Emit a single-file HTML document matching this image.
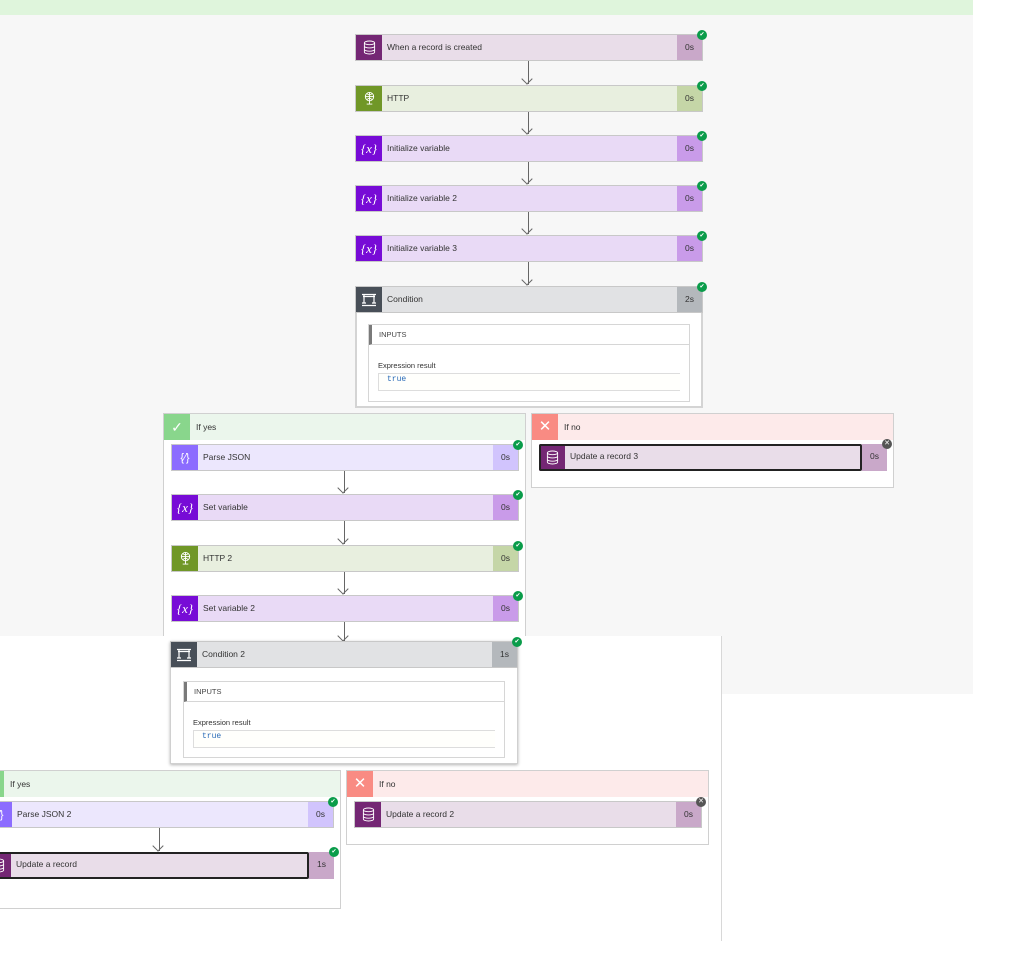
<!DOCTYPE html>
<html><head><meta charset="utf-8"><style>
*{box-sizing:border-box;margin:0;padding:0}
body{width:1024px;height:968px;position:relative;overflow:hidden;background:#fff;font-family:"Liberation Sans",sans-serif;font-size:8.5px;color:#333}
.a{position:absolute}
.c{position:absolute;height:27px;border:1px solid #c8c8c8}
.c .i{position:absolute;left:0;top:0;width:26px;height:100%;display:flex;align-items:center;justify-content:center;color:#fff}
.c .t{position:absolute;left:31px;top:0;line-height:25px}
.c .d{position:absolute;right:0;top:0;width:25px;height:100%;text-align:center;line-height:25px}
.ok{position:absolute;right:-5px;top:-5px;width:10px;height:10px;border-radius:50%;background:#0a9c4a;color:#fff;font-size:6px;line-height:10px;text-align:center}
.x{position:absolute;right:-5px;top:-5px;width:10px;height:10px;border-radius:50%;background:#555;color:#fff;font-size:7px;line-height:10px;text-align:center}
.db{background:#e9dde9}.db .i{background:#742774}.db .d{background:#c9a8c9}
.ht{background:#e8efdf}.ht .i{background:#709727}.ht .d{background:#c5d6a7}
.vr{background:#e9daf6}.vr .i{background:#770bd6;font-family:"Liberation Serif",serif;font-style:italic;font-size:13px}.vr .d{background:#c99be9}
.pj{background:#ece7fd}.pj .i{background:#8c6cff;font-size:11px}.pj .d{background:#d1c4fd}
.cd{background:#e1e2e4}.cd .i{background:#484f58}.cd .d{background:#b4b8bc}
.sel{border:2px solid #222;border-radius:2px}
.arr{position:absolute;width:1px;background:#666}
.arr:after{content:"";position:absolute;left:-5px;bottom:0;width:7px;height:7px;border-right:1.3px solid #666;border-bottom:1.3px solid #666;transform:translate(0,-1px) rotate(45deg)}
.box{position:absolute;border:1px solid #d0d0d0;background:#fff}
.inp{position:absolute;border:1px solid #d6d6d6;background:#fff}
.inp .h{height:20px;border-bottom:1px solid #d6d6d6;border-left:3px solid #7a7a7a;padding-left:7px;line-height:20px;font-size:7.5px;color:#444}
.inp .l{position:absolute;left:9px;top:36px;font-size:7.5px;color:#333}
.inp .v{position:absolute;left:9px;top:48px;right:9px;height:18px;border:1px solid #ddd;border-right:none;background:#fffffc;padding-left:8px;font-family:"Liberation Mono",monospace;font-size:8px;color:#2a6bb8;line-height:11px}
.yh{position:absolute;height:26px;background:#ebf6ec}
.yh .i{position:absolute;left:0;top:0;width:26px;height:26px;background:#89d68c;color:#fff;text-align:center;line-height:26px;font-size:14px}
.nh{position:absolute;height:26px;background:#fdeaea}
.nh .i{position:absolute;left:0;top:0;width:26px;height:26px;background:#f98b83;color:#fff;text-align:center;line-height:26px;font-size:15px}
.yh .t,.nh .t{position:absolute;left:32px;line-height:26px}
</style></head><body>
<div class="a" style="left:0;top:0;width:973px;height:15px;background:#dff5dc"></div>
<div class="a" style="left:0;top:15px;width:973px;height:679px;background:#f7f7f7"></div>

<svg width="0" height="0" style="position:absolute"><defs>
<symbol id="dbi" viewBox="0 0 14 16"><ellipse cx="7" cy="3" rx="5.5" ry="2" fill="none" stroke="#fff" stroke-width="1"/><path d="M1.5 3v10c0 1.1 2.5 2 5.5 2s5.5-.9 5.5-2V3M1.5 6.5c0 1.1 2.5 2 5.5 2s5.5-.9 5.5-2M1.5 10c0 1.1 2.5 2 5.5 2s5.5-.9 5.5-2" fill="none" stroke="#fff" stroke-width="1"/></symbol>
<symbol id="gl" viewBox="0 0 14 16"><circle cx="7" cy="6" r="4.5" fill="none" stroke="#fff"/><path d="M2.5 6h9M7 1.5v9M4.5 3c1.5 1.5 3.5 1.5 5 0M4.5 9c1.5-1.5 3.5-1.5 5 0M7 10.5v3M4 14h6" fill="none" stroke="#fff"/></symbol>
<symbol id="cn" viewBox="0 0 16 14"><path d="M1 1.5h14M3 1.5v4M13 1.5v4M2 3.5h12M3 5.5v4M13 5.5v4M1 10h4M11 10h4M1 12.5h14" fill="none" stroke="#fff" stroke-width="1.2"/></symbol>
</defs></svg>

<!-- main flow -->
<div class="c db" style="left:355px;top:34px;width:348px"><div class="i"><svg width="13" height="15"><use href="#dbi"/></svg></div><div class="t">When a record is created</div><div class="d">0s</div><div class="ok">✔</div></div>
<div class="arr" style="left:528px;top:61px;height:23px"></div>
<div class="c ht" style="left:355px;top:85px;width:348px"><div class="i"><svg width="13" height="15"><use href="#gl"/></svg></div><div class="t">HTTP</div><div class="d">0s</div><div class="ok">✔</div></div>
<div class="arr" style="left:528px;top:112px;height:22px"></div>
<div class="c vr" style="left:355px;top:135px;width:348px"><div class="i">{x}</div><div class="t">Initialize variable</div><div class="d">0s</div><div class="ok">✔</div></div>
<div class="arr" style="left:528px;top:162px;height:22px"></div>
<div class="c vr" style="left:355px;top:185px;width:348px"><div class="i">{x}</div><div class="t">Initialize variable 2</div><div class="d">0s</div><div class="ok">✔</div></div>
<div class="arr" style="left:528px;top:212px;height:22px"></div>
<div class="c vr" style="left:355px;top:235px;width:348px"><div class="i">{x}</div><div class="t">Initialize variable 3</div><div class="d">0s</div><div class="ok">✔</div></div>
<div class="arr" style="left:528px;top:262px;height:23px"></div>

<div class="box" style="left:355px;top:286px;width:348px;height:122px;border:2px solid #d4d4d4"></div>
<div class="c cd" style="left:355px;top:286px;width:348px"><div class="i"><svg width="16" height="14"><use href="#cn"/></svg></div><div class="t">Condition</div><div class="d">2s</div><div class="ok">✔</div></div>
<div class="inp" style="left:368px;top:324px;width:322px;height:78px"><div class="h">INPUTS</div><div class="l">Expression result</div><div class="v">true</div></div>

<!-- if yes 1 -->
<div class="box" style="left:163px;top:413px;width:363px;height:240px;border-bottom:none"></div>
<div class="yh" style="left:164px;top:414px;width:361px"><div class="i">✓</div><div class="t">If yes</div></div>
<div class="c pj" style="left:171px;top:444px;width:348px"><div class="i">{∕}</div><div class="t">Parse JSON</div><div class="d">0s</div><div class="ok">✔</div></div>
<div class="arr" style="left:344px;top:471px;height:22px"></div>
<div class="c vr" style="left:171px;top:494px;width:348px"><div class="i">{x}</div><div class="t">Set variable</div><div class="d">0s</div><div class="ok">✔</div></div>
<div class="arr" style="left:344px;top:521px;height:23px"></div>
<div class="c ht" style="left:171px;top:545px;width:348px"><div class="i"><svg width="13" height="15"><use href="#gl"/></svg></div><div class="t">HTTP 2</div><div class="d">0s</div><div class="ok">✔</div></div>
<div class="arr" style="left:344px;top:572px;height:22px"></div>
<div class="c vr" style="left:171px;top:595px;width:348px"><div class="i">{x}</div><div class="t">Set variable 2</div><div class="d">0s</div><div class="ok">✔</div></div>

<!-- if no 1 -->
<div class="box" style="left:531px;top:413px;width:363px;height:75px"></div>
<div class="nh" style="left:532px;top:414px;width:361px"><div class="i">✕</div><div class="t">If no</div></div>
<div class="c db" style="left:539px;top:444px;width:348px;border:none"><div class="i" style="border-radius:2px 0 0 2px"><svg width="13" height="15"><use href="#dbi"/></svg></div><div class="t">Update a record 3</div><div class="d">0s</div><div class="x">✕</div></div>
<div class="a sel" style="left:539px;top:444px;width:323px;height:27px"></div>

<!-- white panel -->
<div class="a" style="left:0;top:636px;width:722px;height:305px;background:#fff;border-right:1px solid #d8d8d8"></div>
<div class="arr" style="left:344px;top:622px;height:19px"></div>

<!-- condition 2 -->
<div class="box" style="left:170px;top:641px;width:348px;height:123px;box-shadow:0 1px 3px rgba(0,0,0,.3)"></div>
<div class="c cd" style="left:170px;top:641px;width:348px"><div class="i"><svg width="16" height="14"><use href="#cn"/></svg></div><div class="t">Condition 2</div><div class="d">1s</div><div class="ok">✔</div></div>
<div class="inp" style="left:183px;top:681px;width:322px;height:77px"><div class="h">INPUTS</div><div class="l">Expression result</div><div class="v">true</div></div>

<!-- if yes 2 -->
<div class="box" style="left:-23px;top:770px;width:364px;height:139px"></div>
<div class="yh" style="left:-22px;top:771px;width:362px"><div class="i">✓</div><div class="t">If yes</div></div>
<div class="c pj" style="left:-15px;top:801px;width:349px"><div class="i">{∕}</div><div class="t">Parse JSON 2</div><div class="d">0s</div><div class="ok">✔</div></div>
<div class="arr" style="left:159px;top:828px;height:23px"></div>
<div class="c db" style="left:-15px;top:852px;width:349px;border:none"><div class="i"><svg width="13" height="15"><use href="#dbi"/></svg></div><div class="t">Update a record</div><div class="d">1s</div><div class="ok">✔</div></div>
<div class="a sel" style="left:-15px;top:852px;width:324px;height:27px"></div>

<!-- if no 2 -->
<div class="box" style="left:346px;top:770px;width:363px;height:75px"></div>
<div class="nh" style="left:347px;top:771px;width:361px"><div class="i">✕</div><div class="t">If no</div></div>
<div class="c db" style="left:354px;top:801px;width:348px"><div class="i"><svg width="13" height="15"><use href="#dbi"/></svg></div><div class="t">Update a record 2</div><div class="d">0s</div><div class="x">✕</div></div>
</body></html>
